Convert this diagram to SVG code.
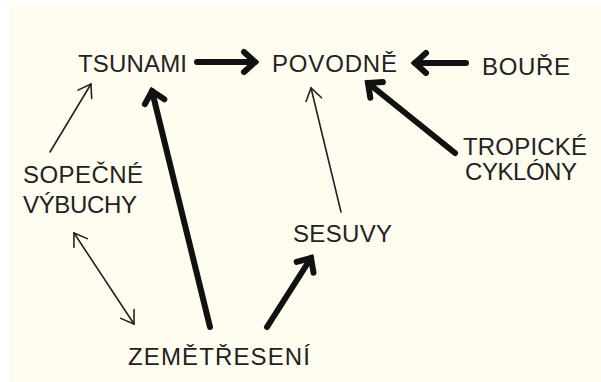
<svg xmlns="http://www.w3.org/2000/svg" width="601" height="382" viewBox="0 0 601 382">
  <style>
    .lbl { font-family: "Liberation Sans", Arial, sans-serif; font-size: 24px; fill: #222222; }
    .thick { stroke: #111; stroke-width: 6; fill: none; stroke-linecap: round; }
    .thin { stroke: #222; stroke-width: 1.6; fill: none; stroke-linecap: round; }
    .headThick { stroke: #111; stroke-width: 6; fill: none; stroke-linecap: round; stroke-linejoin: miter; }
    .headThin { stroke: #222; stroke-width: 1.6; fill: none; stroke-linecap: round; stroke-linejoin: miter; }
  </style>
  <defs>
    <marker id="ahThick" markerUnits="userSpaceOnUse" orient="auto" markerWidth="30" markerHeight="30" refX="0" refY="0" viewBox="-15 -15 30 30" style="overflow:visible">
      <path class="headThick" d="M-11,-10 L0,0 L-11,10"/>
    </marker>
    <marker id="ahThin" markerUnits="userSpaceOnUse" orient="auto" markerWidth="30" markerHeight="30" refX="0" refY="0" viewBox="-15 -15 30 30" style="overflow:visible">
      <path class="headThin" d="M-12,-8 L0,0 L-12,8"/>
    </marker>
    <marker id="ahThinStart" markerUnits="userSpaceOnUse" orient="auto-start-reverse" markerWidth="30" markerHeight="30" refX="0" refY="0" viewBox="-15 -15 30 30" style="overflow:visible">
      <path class="headThin" d="M-12,-8 L0,0 L-12,8"/>
    </marker>
  </defs>
  <rect x="0" y="0" width="601" height="382" fill="#ffffff"/>
  <rect x="9" y="3" width="592" height="379" fill="#fffdf0"/>

  <g id="connectors">
    <line class="thick" x1="197" y1="62" x2="255" y2="62" marker-end="url(#ahThick)"/>
    <line class="thick" x1="466" y1="63" x2="415" y2="63" marker-end="url(#ahThick)"/>
    <line class="thick" x1="455" y1="153" x2="368" y2="83" marker-end="url(#ahThick)"/>
    <line class="thick" x1="210" y1="327" x2="152" y2="91" marker-end="url(#ahThick)"/>
    <line class="thick" x1="267" y1="327" x2="311" y2="258" marker-end="url(#ahThick)"/>
    <line class="thin" x1="341" y1="212" x2="311" y2="88" marker-end="url(#ahThin)"/>
    <line class="thin" x1="50" y1="152" x2="91" y2="84" marker-end="url(#ahThin)"/>
    <line class="thin" x1="74" y1="233" x2="134" y2="324" marker-start="url(#ahThinStart)" marker-end="url(#ahThin)"/>
  </g>

  <g id="tsunami"><text class="lbl" x="78" y="72" textLength="109">TSUNAMI</text></g>
  <g id="povodne"><text class="lbl" x="272" y="72" textLength="125">POVODNĚ</text></g>
  <g id="boure"><text class="lbl" x="482" y="75" textLength="88">BOUŘE</text></g>
  <g id="tropicke-cyklony">
    <text class="lbl" x="463" y="155" textLength="124">TROPICKÉ</text>
    <text class="lbl" x="465" y="180" textLength="112">CYKLÓNY</text>
  </g>
  <g id="sopecne-vybuchy">
    <text class="lbl" x="23" y="183" textLength="120">SOPEČNÉ</text>
    <text class="lbl" x="23" y="213" textLength="114">VÝBUCHY</text>
  </g>
  <g id="sesuvy"><text class="lbl" x="293" y="242" textLength="99">SESUVY</text></g>
  <g id="zemetreseni"><text class="lbl" x="128" y="365" textLength="182">ZEMĚTŘESENÍ</text></g>
</svg>
